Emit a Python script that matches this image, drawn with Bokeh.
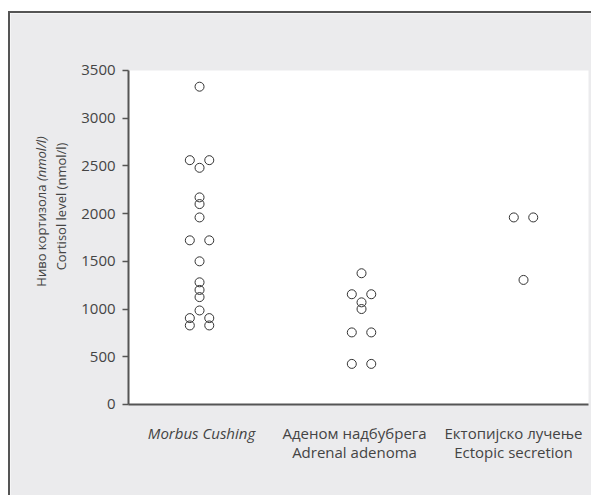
import math

from bokeh.embed import file_html
from bokeh.models import BoxAnnotation, ColumnDataSource, FixedTicker, Label, Range1d
from bokeh.plotting import figure
from bokeh.resources import INLINE

# Cortisol level (nmol/l) per patient, grouped by diagnosis.
# "side" places coincident values left (-1), centre (0) or right (+1) of the group.
groups = ["Morbus Cushing", "Adrenal adenoma", "Ectopic secretion"]

cushing_values = [3330, 2560, 2560, 2480, 2170, 2100, 1960, 1720, 1720,
                  1500, 1280, 1200, 1125, 985, 905, 828, 905, 828]
cushing_side = [0, -1, 1, 0, 0, 0, 0, -1, 1,
                0, 0, 0, 0, 0, -1, -1, 1, 1]

adenoma_values = [1375, 1155, 1155, 1070, 1000, 755, 755, 425, 425]
adenoma_side = [0, -1, 1, 0, 0, -1, 1, -1, 1]

ectopic_values = [1960, 1960, 1305]
ectopic_side = [-1, 1, 0]

y_ticks = [0, 500, 1000, 1500, 2000, 2500, 3000, 3500]

category_lines = [
    ("Morbus Cushing", None),
    ("Аденом надбубрега", "Adrenal adenoma"),
    ("Ектопијско лучење", "Ectopic secretion"),
]

FONT = "Open Sans"
SIZE = "15px"
TITLE_SIZE = "13px"
TEXT_COLOR = "#444444"
AXIS_COLOR = "#555555"
PANEL = "#ebebed"
SPREAD = 0.06

# plotting box (data units); the figure ranges also cover the grey panel around it
Y_MIN, Y_MAX = 0, 3500
X_MIN, X_MAX = 0.562, 3.401

xs, ys = [], []
for gi, (vals, sides) in enumerate([(cushing_values, cushing_side),
                                    (adenoma_values, adenoma_side),
                                    (ectopic_values, ectopic_side)], start=1):
    for v, s in zip(vals, sides):
        xs.append(gi + s * SPREAD)
        ys.append(v)

source = ColumnDataSource(data=dict(x=xs, y=ys))

p = figure(
    width=583, height=484,
    x_range=Range1d(-0.167, 3.432), y_range=Range1d(-975, 4097),
    output_backend="svg", toolbar_location=None,
    min_border=0,
    border_fill_color=PANEL, background_fill_color=PANEL,
    outline_line_color=None,
)
p.margin = (11, 0, 0, 8)
p.styles = {"border-top": "2px solid #555555", "border-left": "2px solid #555555"}

# white plotting area
p.add_layout(BoxAnnotation(left=X_MIN, right=X_MAX, bottom=Y_MIN, top=Y_MAX,
                           fill_color="white", fill_alpha=1, line_color=None,
                           level="underlay"))

p.scatter("x", "y", source=source, size=9, marker="circle",
          line_color="#333333", line_width=1, fill_alpha=0)

p.grid.visible = False

yaxis = p.yaxis[0]
yaxis.fixed_location = X_MIN
yaxis.bounds = (Y_MIN, Y_MAX)
yaxis.ticker = FixedTicker(ticks=y_ticks)
yaxis.minor_tick_line_color = None
yaxis.major_tick_in = 0
yaxis.major_tick_out = 6
yaxis.major_tick_line_width = 1.5
yaxis.major_tick_line_color = AXIS_COLOR
yaxis.axis_line_width = 2
yaxis.axis_line_color = AXIS_COLOR
yaxis.major_label_text_font = FONT
yaxis.major_label_text_font_size = SIZE
yaxis.major_label_text_color = TEXT_COLOR
yaxis.major_label_standoff = 7

xaxis = p.xaxis[0]
xaxis.fixed_location = Y_MIN
xaxis.bounds = (X_MIN, X_MAX)
xaxis.ticker = FixedTicker(ticks=[])
xaxis.minor_tick_line_color = None
xaxis.major_tick_line_color = None
xaxis.axis_line_width = 2
xaxis.axis_line_color = AXIS_COLOR
xaxis.major_label_text_font_size = "0px"

# Category names under the axis, two lines each.
LINE1_Y, LINE2_Y = -304, -503
label_nudge = [2, -7, -10]
for gi, ((line1, line2), dx) in enumerate(zip(category_lines, label_nudge), start=1):
    p.add_layout(Label(x=gi, y=LINE1_Y, x_offset=dx, text=line1,
                       text_align="center", text_baseline="alphabetic",
                       text_font=FONT, text_font_size=SIZE,
                       text_color=TEXT_COLOR,
                       text_font_style="italic" if line2 is None else "normal"))
    if line2:
        p.add_layout(Label(x=gi, y=LINE2_Y, x_offset=dx, text=line2,
                           text_align="center", text_baseline="alphabetic",
                           text_font=FONT, text_font_size=SIZE,
                           text_color=TEXT_COLOR))

# Rotated y-axis title: Serbian line with italic unit, then English line.
common = dict(angle=math.pi / 2, x_units="screen", text_baseline="alphabetic",
              text_font=FONT, text_font_size=TITLE_SIZE, text_color=TEXT_COLOR)
p.add_layout(Label(x=30, y=2305, text="Ниво кортизола", text_align="right", **common))
p.add_layout(Label(x=30, y=2342, text="(nmol/l)", text_align="left",
                   text_font_style="italic", **common))
p.add_layout(Label(x=50, y=2075, text="Cortisol level (nmol/l)", text_align="center",
                   **common))

open("out.html", "w").write(file_html(p, INLINE))
